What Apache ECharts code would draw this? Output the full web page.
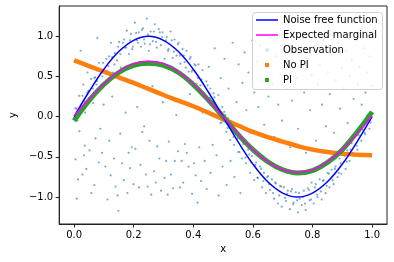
<!DOCTYPE html>
<html>
<head>
<meta charset="utf-8">
<script src="https://cdn.jsdelivr.net/npm/echarts@6/dist/echarts.min.js"></script>
<style>html,body{margin:0;padding:0;background:#fff}#c{width:394px;height:262px}</style>
</head>
<body>
<div id="c"></div>
<script>
// ---- data ----
const xGrid = [0,0.05,0.1,0.15,0.2,0.25,0.3,0.35,0.4,0.45,0.5,0.55,0.6,0.65,0.7,0.75,0.8,0.85,0.9,0.95,1.0];
const noiseFree = [0,0.31,0.59,0.81,0.95,1.0,0.95,0.81,0.59,0.31,0,-0.31,-0.59,-0.81,-0.95,-1.0,-0.95,-0.81,-0.59,-0.31,0];
const expectedMarginal = [0.01,0.22,0.41,0.56,0.66,0.69,0.66,0.56,0.41,0.21,0.0,-0.21,-0.41,-0.56,-0.66,-0.69,-0.66,-0.56,-0.41,-0.21,0.01];
const noPI = [0.70,0.63,0.56,0.49,0.42,0.345,0.27,0.20,0.13,0.05,-0.03,-0.11,-0.19,-0.255,-0.31,-0.365,-0.41,-0.44,-0.46,-0.475,-0.48];
const withPI = [-0.05,0.20,0.40,0.55,0.64,0.665,0.64,0.55,0.40,0.21,0.0,-0.22,-0.41,-0.56,-0.66,-0.70,-0.67,-0.57,-0.41,-0.19,0.06];
const obsPoints = [
[0.004,0.105],[0.011,-0.05],[0.017,0.26],[0.024,0.10],[0.031,0.40],[0.037,0.05],[0.044,0.30],[0.051,0.23],[0.057,0.47],
[0.064,0.17],[0.071,0.49],[0.077,0.445],[0.084,0.67],[0.091,0.40],[0.097,0.67],[0.104,0.54],[0.111,0.57],[0.117,0.75],
[0.124,0.92],[0.131,0.55],[0.137,0.79],[0.144,0.70],[0.151,0.93],[0.157,0.61],[0.164,0.92],[0.171,0.86],[0.177,1.07],
[0.184,0.78],[0.191,1.03],[0.197,0.87],[0.204,1.17],[0.211,0.95],[0.217,1.05],[0.224,0.87],[0.231,1.10],[0.237,0.91],
[0.244,1.22],[0.251,0.82],[0.257,1.06],[0.264,0.94],[0.271,1.15],[0.277,0.86],[0.284,1.09],[0.291,0.89],[0.297,1.05],
[0.304,0.72],[0.311,0.99],[0.317,0.84],[0.324,1.06],[0.331,0.73],[0.337,0.96],[0.344,0.76],[0.351,0.92],[0.357,0.66],
[0.364,0.84],[0.371,0.68],[0.377,0.82],[0.384,0.56],[0.391,0.74],[0.397,0.58],[0.404,0.65],[0.411,0.41],[0.417,0.65],
[0.424,0.39],[0.431,0.58],[0.437,0.24],[0.444,0.44],[0.451,0.23],[0.457,0.35],[0.464,0.03],[0.471,0.24],[0.477,0.11],
[0.484,0.27],[0.491,-0.08],[0.497,0.12],[0.504,0.06],[0.511,-0.19],[0.517,-0.02],[0.524,-0.29],[0.531,-0.10],[0.537,-0.35],
[0.544,-0.20],[0.551,-0.44],[0.557,-0.27],[0.564,-0.52],[0.571,-0.33],[0.577,-0.58],[0.584,-0.41],[0.591,-0.70],[0.597,-0.49],
[0.604,-0.79],[0.611,-0.57],[0.617,-0.76],[0.624,-0.62],[0.631,-0.88],[0.637,-0.70],[0.644,-0.95],[0.651,-0.74],[0.657,-0.91],
[0.664,-0.78],[0.671,-1.02],[0.677,-0.83],[0.684,-1.08],[0.691,-0.86],[0.697,-1.12],[0.704,-0.88],[0.711,-1.05],[0.717,-0.92],
[0.724,-1.15],[0.731,-0.90],[0.737,-1.07],[0.744,-0.94],[0.751,-1.19],[0.757,-1.02],[0.764,-1.10],[0.771,-0.92],[0.777,-1.16],
[0.784,-0.89],[0.791,-1.04],[0.797,-0.82],[0.804,-1.08],[0.811,-0.84],[0.817,-1.00],[0.824,-0.78],[0.831,-1.03],[0.837,-0.79],
[0.844,-0.95],[0.851,-0.70],[0.857,-0.88],[0.864,-0.66],[0.871,-0.84],[0.877,-0.62],[0.884,-0.75],[0.891,-0.52],[0.897,-0.71],
[0.904,-0.47],[0.911,-0.65],[0.917,-0.42],[0.924,-0.55],[0.931,-0.33],[0.937,-0.47],[0.944,-0.24],[0.951,-0.41],[0.957,-0.19],
[0.964,-0.30],[0.971,-0.08],[0.977,-0.22],[0.984,0.02],[0.991,-0.15],[0.997,0.05],
[0.008,0.10],[0.015,0.02],[0.028,0.26],[0.035,0.19],[0.048,0.32],[0.055,0.24],[0.068,0.48],[0.075,0.40],[0.088,0.57],[0.095,0.50],
[0.108,0.72],[0.115,0.63],[0.128,0.74],[0.135,0.65],[0.148,0.87],[0.155,0.78],[0.168,0.96],[0.175,0.86],[0.188,0.95],[0.195,0.84],
[0.208,1.04],[0.215,0.92],[0.228,1.08],[0.235,0.96],[0.248,1.02],[0.255,0.90],[0.268,1.06],[0.275,0.93],[0.288,1.05],[0.295,0.99],
[0.308,0.95],[0.315,0.82],[0.328,0.95],[0.335,0.81],[0.348,0.90],[0.355,0.76],[0.368,0.76],[0.375,0.61],[0.388,0.72],[0.395,0.56],
[0.408,0.64],[0.415,0.48],[0.428,0.46],[0.435,0.30],[0.448,0.39],[0.455,0.23],[0.468,0.29],[0.475,0.13],[0.488,0.08],[0.495,-0.07],
[0.508,0.02],[0.515,-0.14],[0.528,-0.08],[0.535,-0.25],[0.548,-0.27],[0.555,-0.44],[0.568,-0.34],[0.575,-0.51],[0.588,-0.47],[0.595,-0.57],
[0.608,-0.60],[0.615,-0.76],[0.628,-0.65],[0.635,-0.80],[0.648,-0.75],[0.655,-0.84],[0.668,-0.95],[0.675,-0.82],[0.688,-0.98],[0.695,-0.87],
[0.708,-1.01],[0.715,-0.96],[0.728,-0.93],[0.735,-1.09],[0.748,-1.04],[0.755,-0.95],[0.768,-1.00],[0.775,-1.08],[0.788,-0.91],[0.795,-1.03],
[0.808,-0.88],[0.815,-0.97],[0.828,-0.93],[0.835,-0.80],[0.848,-0.86],[0.855,-0.71],[0.868,-0.79],[0.875,-0.65],[0.888,-0.70],[0.895,-0.58],
[0.908,-0.49],[0.915,-0.56],[0.928,-0.41],[0.935,-0.45],[0.948,-0.36],[0.955,-0.23],[0.968,-0.16],[0.975,-0.20],[0.988,-0.03],[0.995,-0.07],
[0.005,-0.53],[0.009,-1.02],[0.013,-0.78],[0.018,-0.18],[0.022,0.82],[0.028,-0.72],[0.033,-0.48],[0.036,-0.36],[0.041,-0.65],[0.045,0.55],
[0.052,-0.42],[0.058,-0.95],[0.063,0.35],[0.068,-0.85],[0.072,-0.27],[0.078,0.98],[0.083,-0.57],[0.088,-0.15],[0.094,-0.45],[0.099,0.15],
[0.105,-0.62],[0.112,-1.03],[0.118,-0.30],[0.123,-0.73],[0.128,0.25],[0.134,-0.52],[0.139,-0.87],[0.146,-0.98],[0.149,-1.17],[0.155,-0.21],
[0.161,-0.58],[0.167,-0.79],[0.173,0.05],[0.179,-0.95],[0.183,-0.45],[0.188,-0.64],[0.194,-0.38],[0.199,-0.84],[0.206,-0.40],[0.212,0.12],
[0.218,-0.88],[0.223,-0.60],[0.229,-0.19],[0.235,-0.12],[0.241,-0.72],[0.247,-0.87],[0.253,-0.30],[0.259,-0.97],[0.263,0.38],[0.268,-0.68],
[0.274,-0.82],[0.279,-0.37],[0.286,-0.52],[0.292,-0.92],[0.298,0.18],[0.303,-0.76],[0.309,-0.55],[0.314,-0.97],[0.318,-0.31],[0.325,-0.72],
[0.332,-0.89],[0.338,-0.55],[0.343,0.02],[0.349,-0.43],[0.355,-0.88],[0.361,-0.55],[0.366,-0.82],[0.372,-0.34],[0.378,-0.45],[0.384,-0.62],
[0.389,0.28],[0.396,-0.96],[0.402,-0.58],[0.408,-0.73],[0.414,-1.07],[0.420,-0.38],[0.426,-0.80],[0.432,0.05],[0.438,-0.55],[0.445,-0.90],
[0.452,0.62],[0.458,-0.70],[0.465,-0.35],[0.472,0.85],[0.478,-0.48],[0.485,-0.98],[0.492,0.48],[0.498,-0.62],[0.505,0.72],[0.512,-0.85],
[0.518,0.35],[0.525,-0.55],[0.532,0.92],[0.538,-0.75],[0.545,0.18],[0.552,0.65],[0.558,-0.95],[0.565,0.42],[0.572,0.80],[0.578,0.08],
[0.585,0.55],[0.592,-0.20],[0.598,0.95],[0.605,0.30],[0.612,0.68],[0.618,0.12],[0.625,0.88],[0.632,0.45],[0.638,-0.10],[0.645,0.62],
[0.652,0.25],[0.658,0.98],[0.665,0.40],[0.672,-0.25],[0.678,0.75],[0.685,0.15],[0.692,0.52],[0.698,-0.05],[0.705,0.90],[0.712,0.35],
[0.718,0.68],[0.725,-0.38],[0.732,0.20],[0.738,0.80],[0.745,0.48],[0.752,-0.15],[0.758,0.62],[0.765,1.00],[0.772,0.30],[0.778,-0.45],
[0.785,0.72],[0.792,0.08],[0.798,0.52],[0.805,0.88],[0.812,-0.30],[0.818,0.40],[0.825,0.65],[0.832,0.15],[0.838,0.95],[0.845,-0.12],
[0.852,0.55],[0.858,0.28],[0.865,0.78],[0.872,-0.20],[0.878,0.45],[0.885,0.92],[0.892,0.10],[0.898,0.60],[0.905,0.35],[0.912,0.82],
[0.918,-0.08],[0.925,0.50],[0.932,0.70],[0.938,0.22],[0.945,0.95],[0.952,0.40],[0.958,0.62],[0.965,0.15],[0.972,0.85],[0.978,0.30],
[0.985,0.55],[0.992,0.75],[0.998,0.38]
];
const xTicks = [0,0.2,0.4,0.6,0.8,1.0];
const yTicks = [-1.0,-0.5,0,0.5,1.0];
const legendNames = ['Noise free function','Expected marginal','Observation','No PI','PI'];

// ---- chart ----
const pair = (ys) => xGrid.map((x, i) => [x, ys[i]]);
const FONT = 'DejaVu Sans';
const LINE_ICON = 'path://M0,0h44v3h-44z';
const SQ_ICON = 'path://M0,0h1v1h-1z';
const chart = echarts.init(document.getElementById('c'), null, {renderer: 'canvas'});
const fmt = (v) => v.toFixed(1).replace('-', '\u2212');
const axisLineStyle = {show: true, onZero: false, lineStyle: {color: '#222', width: 1}};
chart.setOption({
  animation: false,
  backgroundColor: '#fff',
  textStyle: {fontFamily: FONT},
  grid: {left: 53, right: 7, top: 6, bottom: 38, show: true, borderColor: '#222', borderWidth: 1, backgroundColor: 'transparent'},
  xAxis: {
    type: 'value', min: -0.05, max: 1.05,
    name: 'x', nameLocation: 'middle', nameGap: 19,
    nameTextStyle: {fontFamily: FONT, fontSize: 10, color: '#000'},
    splitLine: {show: false},
    axisLine: axisLineStyle,
    axisTick: {show: true, length: 3.5, customValues: xTicks, lineStyle: {color: '#222', width: 1}},
    axisLabel: {customValues: xTicks, formatter: fmt, fontFamily: FONT, fontSize: 10, color: '#000', margin: 6}
  },
  yAxis: {
    type: 'value', min: -1.335, max: 1.377,
    name: 'y', nameLocation: 'middle', nameGap: 35,
    nameTextStyle: {fontFamily: FONT, fontSize: 10, color: '#000'},
    splitLine: {show: false},
    axisLine: axisLineStyle,
    axisTick: {show: true, length: 3.5, customValues: yTicks, lineStyle: {color: '#222', width: 1}},
    axisLabel: {customValues: yTicks, formatter: fmt, fontFamily: FONT, fontSize: 10, color: '#000', margin: 6}
  },
  legend: {
    orient: 'vertical', left: 256, top: 12.5, padding: 0, itemGap: 0,
    itemWidth: 22, itemHeight: 4,
    textStyle: {fontFamily: FONT, fontSize: 10, color: '#000', lineHeight: 15},
    data: [
      {name: legendNames[0], icon: LINE_ICON, itemStyle: {color: '#0000ff', borderWidth: 0}},
      {name: legendNames[1], icon: LINE_ICON, itemStyle: {color: '#ff00ff', borderWidth: 0}},
      {name: legendNames[2], icon: 'circle', itemStyle: {color: 'rgba(31,119,180,0.3)', borderWidth: 0}},
      {name: legendNames[3], icon: SQ_ICON, itemStyle: {color: '#ff7f0e', borderWidth: 0}},
      {name: legendNames[4], icon: SQ_ICON, itemStyle: {color: '#2ca02c', borderWidth: 0}}
    ]
  },
  graphic: [{
    type: 'rect', left: 252, top: 12, z: 3,
    shape: {width: 130, height: 77, r: 3},
    style: {fill: 'rgba(255,255,255,0.8)', stroke: '#d0d0d0', lineWidth: 1}
  }],
  series: [
    {name: legendNames[2], type: 'scatter', data: obsPoints, symbolSize: 2.2,
     itemStyle: {color: '#1f77b4', opacity: 0.6}, z: 1},
    {name: legendNames[3], type: 'line', data: pair(noPI), smooth: 0.4, symbol: 'none',
     itemStyle: {color: '#ff7f0e'}, lineStyle: {color: '#ff7f0e', width: 4.5}, z: 2},
    {name: legendNames[4], type: 'line', data: pair(withPI), smooth: 0.4, symbol: 'none',
     itemStyle: {color: '#2ca02c'}, lineStyle: {color: '#2ca02c', width: 5}, z: 2},
    {name: legendNames[0], type: 'line', data: pair(noiseFree), smooth: 0.4, symbol: 'none',
     itemStyle: {color: '#0000ff'}, lineStyle: {color: '#0000ff', width: 1.5}, z: 2},
    {name: legendNames[1], type: 'line', data: pair(expectedMarginal), smooth: 0.4, symbol: 'none',
     itemStyle: {color: '#ff00ff'}, lineStyle: {color: '#ff00ff', width: 1.5}, z: 2}
  ]
});
</script>
</body>
</html>
